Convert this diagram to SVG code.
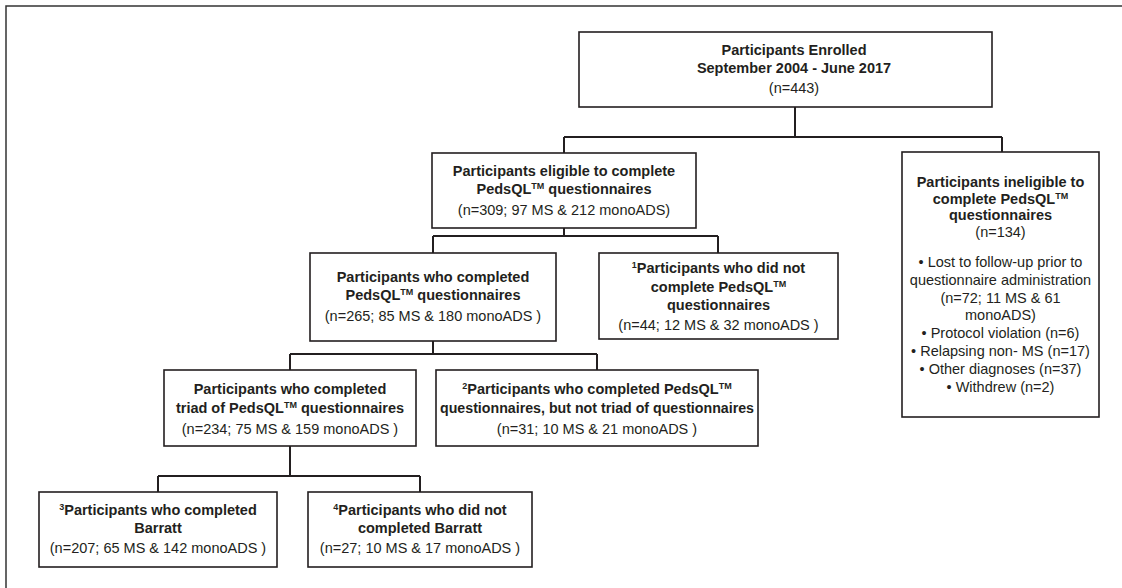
<svg xmlns="http://www.w3.org/2000/svg" width="1122" height="588" viewBox="0 0 1122 588">
<style>
.frame{fill:#fff;stroke:#333;stroke-width:1.5}
.box{fill:#fff;stroke:#231f20;stroke-width:1.6}
.conn{fill:none;stroke:#231f20;stroke-width:2}
text{font-family:"Liberation Sans",Arial,sans-serif;font-size:14.5px;fill:#231f20;text-anchor:middle}
.b{font-weight:bold}
.sup{font-size:9px}
</style>
<rect class="frame" x="6" y="6" width="1130" height="600"/>
<g id="connectors">
<path class="conn" d="M795 107V137M564 137H1002M564 137V153M1002 137V152"/>
<path class="conn" d="M564 228V236M433 236H718M433 236V253M718 236V253"/>
<path class="conn" d="M433 341V354M290 354H597M290 354V370M597 354V370"/>
<path class="conn" d="M290 446V476M158 476H420M158 476V492M420 476V492"/>
</g>
<g id="enrolled">
<rect class="box" x="579" y="32" width="413" height="75"/>
<text class="b" x="794" y="55">Participants Enrolled</text>
<text class="b" x="794" y="73">September 2004 - June 2017</text>
<text x="794" y="93">(n=443)</text>
</g>
<g id="eligible">
<rect class="box" x="432" y="153" width="264" height="75"/>
<text class="b" x="564" y="176">Participants eligible to complete</text>
<text class="b" x="564" y="194">PedsQL<tspan class="sup" dy="-5">TM</tspan><tspan dy="5"> questionnaires</tspan></text>
<text x="564" y="215">(n=309; 97 MS &amp; 212 monoADS)</text>
</g>
<g id="ineligible">
<rect class="box" x="902" y="152" width="197" height="265"/>
<text class="b" x="1000.5" y="187">Participants ineligible to</text>
<text class="b" x="1000.5" y="204">complete PedsQL<tspan class="sup" dy="-5">TM</tspan></text>
<text class="b" x="1000.5" y="220">questionnaires</text>
<text x="1000.5" y="237">(n=134)</text>
<text x="1000.5" y="267">•  Lost to follow-up prior to</text>
<text x="1000.5" y="285">questionnaire administration</text>
<text x="1000.5" y="303">(n=72; 11 MS &amp; 61</text>
<text x="1000.5" y="320">monoADS)</text>
<text x="1000.5" y="338">• Protocol violation (n=6)</text>
<text x="1000.5" y="356">• Relapsing non- MS (n=17)</text>
<text x="1000.5" y="374">• Other diagnoses (n=37)</text>
<text x="1000.5" y="392">• Withdrew (n=2)</text>
</g>
<g id="completed">
<rect class="box" x="310" y="253" width="246" height="88"/>
<text class="b" x="433" y="282">Participants who completed</text>
<text class="b" x="433" y="300">PedsQL<tspan class="sup" dy="-5">TM</tspan><tspan dy="5"> questionnaires</tspan></text>
<text x="433" y="321">(n=265; 85 MS &amp; 180 monoADS )</text>
</g>
<g id="notcompleted">
<rect class="box" x="599" y="253" width="239" height="86"/>
<text class="b" x="718.5" y="273"><tspan class="sup" dy="-5">1</tspan><tspan dy="5">Participants who did not</tspan></text>
<text class="b" x="718.5" y="292">complete PedsQL<tspan class="sup" dy="-5">TM</tspan></text>
<text class="b" x="718.5" y="310">questionnaires</text>
<text x="718.5" y="330">(n=44; 12 MS &amp; 32 monoADS )</text>
</g>
<g id="triad">
<rect class="box" x="164" y="370" width="252" height="76"/>
<text class="b" x="290" y="394">Participants who completed</text>
<text class="b" x="290" y="413">triad of PedsQL<tspan class="sup" dy="-5">TM</tspan><tspan dy="5"> questionnaires</tspan></text>
<text x="290" y="434">(n=234; 75 MS &amp; 159 monoADS )</text>
</g>
<g id="nottriad">
<rect class="box" x="436" y="370" width="322" height="76"/>
<text class="b" x="597" y="394"><tspan class="sup" dy="-5">2</tspan><tspan dy="5">Participants who completed PedsQL</tspan><tspan class="sup" dy="-5">TM</tspan></text>
<text class="b" x="597" y="413" textLength="314" lengthAdjust="spacingAndGlyphs">questionnaires, but not triad of questionnaires</text>
<text x="597" y="434">(n=31; 10 MS &amp; 21 monoADS )</text>
</g>
<g id="barratt">
<rect class="box" x="39" y="492" width="238" height="75"/>
<text class="b" x="158" y="515"><tspan class="sup" dy="-5">3</tspan><tspan dy="5">Participants who completed</tspan></text>
<text class="b" x="158" y="533">Barratt</text>
<text x="158" y="553">(n=207; 65 MS &amp; 142 monoADS )</text>
</g>
<g id="notbarratt">
<rect class="box" x="308" y="492" width="224" height="75"/>
<text class="b" x="420" y="515"><tspan class="sup" dy="-5">4</tspan><tspan dy="5">Participants who did not</tspan></text>
<text class="b" x="420" y="533">completed Barratt</text>
<text x="420" y="553">(n=27; 10 MS &amp; 17 monoADS )</text>
</g>
</svg>
